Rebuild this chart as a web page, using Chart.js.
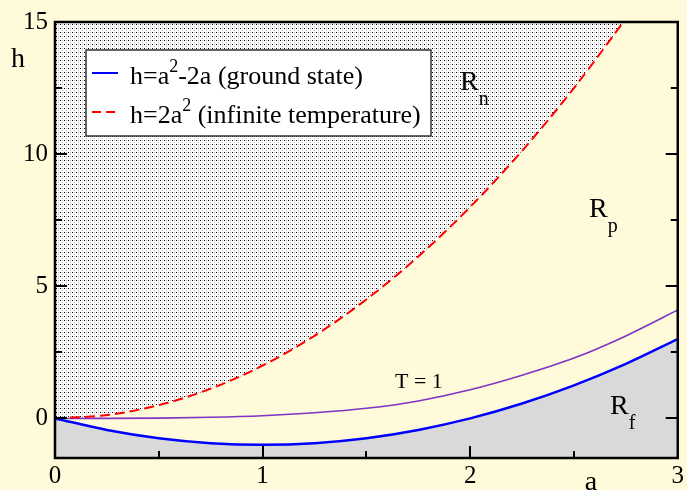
<!DOCTYPE html>
<html>
<head>
<meta charset="utf-8">
<script src="https://cdn.jsdelivr.net/npm/chart.js@4.4.1/dist/chart.umd.min.js"></script>
<style>
  html, body { margin: 0; padding: 0; background: #fffad9; }
  #wrap { width: 687px; height: 490px; }
</style>
</head>
<body>
<div id="wrap"><canvas id="grafico" width="687" height="490"></canvas></div>
<script>
// Valores
const aValores = [0, 0.25, 0.5, 0.75, 1, 1.25, 1.5, 1.75, 2, 2.25, 2.5, 2.75, 3];
const hFundamental = [0, -0.4375, -0.75, -0.9375, -1, -0.9375, -0.75, -0.4375, 0, 0.5625, 1.25, 2.0625, 3];
const hInfinita = [0, 0.125, 0.5, 1.125, 2, 3.125, 4.5, 6.125, 8, 10.125, 12.5, 15.125];
const hT1 = [0, 0, 0.01, 0.04, 0.1, 0.21, 0.38, 0.66, 1.08, 1.63, 2.28, 3.12, 4.1];

const ticksX = [0, 1, 2, 3];
const menoresX = [0.5, 1.5, 2.5];
const ticksY = [0, 5, 10, 15];
const menoresY = [2.5, 7.5, 12.5];

const SERIF = "'Liberation Serif', 'Times New Roman', serif";

// Patrón punteado para la región R_n
function crearPatron() {
  const c = document.createElement("canvas");
  c.width = 4;
  c.height = 4;
  const g = c.getContext("2d");
  g.fillStyle = "#ffffff";
  g.fillRect(0, 0, 4, 4);
  g.fillStyle = "#000000";
  g.fillRect(0, 0, 1, 1);
  g.fillStyle = "#bdbdbd";
  g.fillRect(2, 2, 1, 1);
  g.fillRect(2, 0, 1, 1);
  return g.createPattern(c, "repeat");
}

function puntos(ys) {
  return ys.map((y, i) => ({ x: aValores[i], y: y }));
}

// Texto con super/subíndice: partes = [[texto, "n"|"sup"|"sub"], ...]
function textoCompuesto(ctx, partes, x, y, tam, tamChico) {
  let cx = x;
  partes.forEach(([t, tipo]) => {
    let dy = 0, sz = tam;
    if (tipo === "sup") { sz = tamChico; dy = -tam * 0.45; }
    if (tipo === "sub") { sz = tamChico; dy = tam * 0.55; }
    ctx.font = sz + "px " + SERIF;
    ctx.fillText(t, cx, y + dy);
    cx += ctx.measureText(t).width;
  });
}

const marcoYTextos = {
  id: "marcoYTextos",
  afterDraw(chart) {
    const ctx = chart.ctx;
    const a = chart.chartArea;
    const sx = chart.scales.x, sy = chart.scales.y;
    ctx.save();

    // marco
    ctx.strokeStyle = "#000";
    ctx.lineWidth = 2.5;
    ctx.strokeRect(a.left, a.top, a.right - a.left, a.bottom - a.top);

    // marcas hacia adentro
    ctx.lineWidth = 2;
    ctx.beginPath();
    ticksX.concat(menoresX).forEach((v) => {
      const px = Math.round(sx.getPixelForValue(v));
      const largo = menoresX.includes(v) ? 7 : 12;
      ctx.moveTo(px, a.bottom);
      ctx.lineTo(px, a.bottom - largo);
    });
    ticksY.concat(menoresY).forEach((v) => {
      const py = Math.round(sy.getPixelForValue(v));
      const largo = menoresY.includes(v) ? 7 : 12;
      ctx.moveTo(a.left, py);
      ctx.lineTo(a.left + largo, py);
      ctx.moveTo(a.right, py);
      ctx.lineTo(a.right - largo, py);
    });
    ctx.stroke();

    // leyenda
    ctx.fillStyle = "#fff";
    ctx.fillRect(86, 50, 345, 86);
    ctx.strokeStyle = "#333";
    ctx.lineWidth = 1.5;
    ctx.strokeRect(86, 50, 345, 86);

    ctx.lineWidth = 2;
    ctx.strokeStyle = "#0000ff";
    ctx.beginPath();
    ctx.moveTo(92, 73);
    ctx.lineTo(118, 73);
    ctx.stroke();
    ctx.strokeStyle = "#ff0000";
    ctx.setLineDash([9, 5]);
    ctx.beginPath();
    ctx.moveTo(92, 112);
    ctx.lineTo(120, 112);
    ctx.stroke();
    ctx.setLineDash([]);

    ctx.fillStyle = "#000";
    ctx.textBaseline = "alphabetic";
    ctx.textAlign = "left";
    textoCompuesto(ctx, [["h=a", "n"], ["2", "sup"], ["-2a (ground state)", "n"]], 130, 84, 26, 18);
    textoCompuesto(ctx, [["h=2a", "n"], ["2", "sup"], [" (infinite temperature)", "n"]], 130, 123, 26, 18);

    // títulos de ejes
    ctx.font = "28px " + SERIF;
    ctx.textAlign = "center";
    ctx.fillText("h", 18, 67);
    ctx.fillText("a", 591, 490);

    // regiones
    ctx.textAlign = "left";
    textoCompuesto(ctx, [["R", "n"], ["n", "sub"]], 460, 90, 28, 20);
    textoCompuesto(ctx, [["R", "n"], ["p", "sub"]], 589, 217, 28, 20);
    textoCompuesto(ctx, [["R", "n"], ["f", "sub"]], 610, 414, 28, 20);

    ctx.font = "22px " + SERIF;
    ctx.fillText("T = 1", 395, 388);

    ctx.restore();
  },
};

const ctx = document.getElementById("grafico").getContext("2d");

new Chart(ctx, {
  type: "line",
  data: {
    datasets: [
      {
        label: "h=2a^2 (infinite temperature)",
        data: puntos(hInfinita),
        borderColor: "#ff0000",
        borderWidth: 2,
        borderDash: [10, 5],
        backgroundColor: crearPatron(),
        fill: "end",
        pointRadius: 0,
        cubicInterpolationMode: "monotone",
      },
      {
        label: "h=a^2-2a (ground state)",
        data: puntos(hFundamental),
        borderColor: "#0000ff",
        borderWidth: 2.5,
        backgroundColor: "#d9d9d9",
        fill: "start",
        pointRadius: 0,
        cubicInterpolationMode: "monotone",
      },
      {
        label: "T = 1",
        data: puntos(hT1),
        borderColor: "#8033c4",
        borderWidth: 1.6,
        fill: false,
        pointRadius: 0,
        cubicInterpolationMode: "monotone",
      },
    ],
  },
  options: {
    responsive: false,
    animation: false,
    devicePixelRatio: 1,
    layout: { autoPadding: false, padding: { top: 18, right: 7, left: 0, bottom: 0 } },
    plugins: {
      legend: { display: false },
      tooltip: { enabled: false },
    },
    scales: {
      x: {
        type: "linear",
        min: 0,
        max: 3,
        afterFit: (s) => { s.height = 32; },
        afterBuildTicks: (s) => { s.ticks = ticksX.map((v) => ({ value: v })); },
        grid: { display: false, drawTicks: false },
        border: { display: false },
        ticks: {
          color: "#000",
          padding: 3,
          maxRotation: 0,
          font: { family: SERIF, size: 25 },
        },
      },
      y: {
        type: "linear",
        min: -1.5,
        max: 15,
        afterFit: (s) => { s.width = 55; },
        afterBuildTicks: (s) => { s.ticks = ticksY.map((v) => ({ value: v })); },
        grid: { display: false, drawTicks: false },
        border: { display: false },
        ticks: {
          color: "#000",
          padding: 7,
          font: { family: SERIF, size: 25 },
        },
      },
    },
  },
  plugins: [marcoYTextos],
});
</script>
</body>
</html>
